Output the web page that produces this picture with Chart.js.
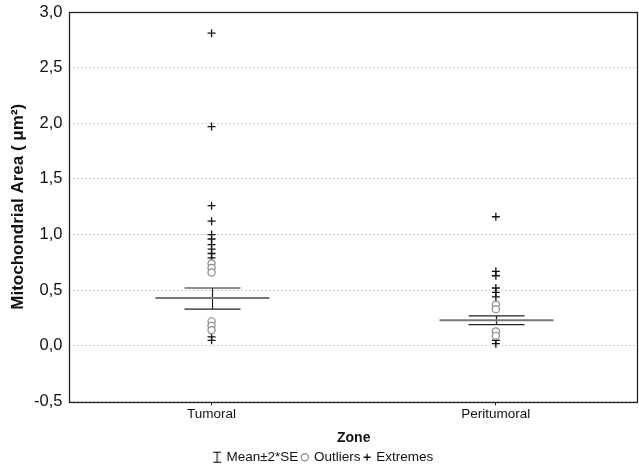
<!DOCTYPE html>
<html>
<head>
<meta charset="utf-8">
<script src="https://cdn.jsdelivr.net/npm/chart.js@4.4.1/dist/chart.umd.min.js"></script>
<style>
  html, body { margin: 0; padding: 0; background: #fff; }
  #wrap { width: 639px; height: 469px; }
</style>
</head>
<body>
<div id="wrap"><canvas id="boxChart"></canvas></div>
<script>
// categories on the x axis
const zones = ["Tumoral", "Peritumoral"];

// mean and mean±2*SE per zone
const means = [0.43, 0.23];
const lowerSE = [0.33, 0.19];
const upperSE = [0.52, 0.27];

// outliers (circles)
const tumoralOutliers = [0.74, 0.70, 0.66, 0.22, 0.18, 0.14];
const peritumoralOutliers = [0.37, 0.33, 0.13, 0.09];

// extremes (crosses)
const tumoralExtremes = [2.81, 1.97, 1.26, 1.12, 1.00, 0.96, 0.91, 0.87, 0.83, 0.79, 0.08, 0.05];
const peritumoralExtremes = [1.16, 0.67, 0.63, 0.52, 0.48, 0.44, 0.05, 0.02];

const yTicks = [-0.5, 0, 0.5, 1, 1.5, 2, 2.5, 3];

const FONT = "'Liberation Sans', Arial, sans-serif";

function toPoints(zoneIdx, values) {
    return values.map(v => ({ x: zones[zoneIdx], y: v }));
}

// little I-beam icon for the legend
function meanIcon() {
    const c = document.createElement("canvas");
    c.width = 10;
    c.height = 13;
    const g = c.getContext("2d");
    g.strokeStyle = "#000";
    g.lineWidth = 1;
    g.beginPath();
    g.moveTo(1, 1.5); g.lineTo(9, 1.5);
    g.moveTo(5, 1.5); g.lineTo(5, 11.5);
    g.moveTo(1, 11.5); g.lineTo(9, 11.5);
    g.stroke();
    return c;
}

// mean line + SE whiskers, and frame round the plot area
const meanSEPlugin = {
    id: "meanSE",
    afterDatasetsDraw(chart) {
        const ctx = chart.ctx;
        const xs = chart.scales.x;
        const ys = chart.scales.y;
        ctx.save();
        zones.forEach((z, i) => {
            const cx = Math.round(xs.getPixelForValue(i)) + 0.5;
            const yLo = ys.getPixelForValue(lowerSE[i]);
            const yHi = ys.getPixelForValue(upperSE[i]);
            const yM = ys.getPixelForValue(means[i]);
            ctx.strokeStyle = "#222";
            ctx.lineWidth = 1.2;
            ctx.beginPath();
            ctx.moveTo(cx, yLo); ctx.lineTo(cx, yHi);
            ctx.moveTo(cx - 28, yLo); ctx.lineTo(cx + 28, yLo);
            ctx.moveTo(cx - 28, yHi); ctx.lineTo(cx + 28, yHi);
            ctx.stroke();
            ctx.strokeStyle = "#777";
            ctx.lineWidth = 2;
            ctx.beginPath();
            ctx.moveTo(cx - 57, yM); ctx.lineTo(cx + 57, yM);
            ctx.stroke();
        });
        const a = chart.chartArea;
        ctx.strokeStyle = "#222";
        ctx.lineWidth = 1.3;
        ctx.strokeRect(Math.round(a.left) + 0.5, Math.round(a.top) + 0.5,
            Math.round(a.right - a.left) - 1, Math.round(a.bottom - a.top));
        ctx.restore();
    }
};

const ctx = document.getElementById("boxChart").getContext("2d");

new Chart(ctx, {
    type: "scatter",
    data: {
        datasets: [
            {
                label: "Mean±2*SE",
                data: [],
                pointStyle: meanIcon(),
            },
            {
                label: "Outliers",
                data: toPoints(0, tumoralOutliers).concat(toPoints(1, peritumoralOutliers)),
                pointStyle: "circle",
                radius: 3.6,
                borderColor: "#888",
                backgroundColor: "#fff",
                borderWidth: 1.2,
            },
            {
                label: "Extremes",
                data: toPoints(0, tumoralExtremes).concat(toPoints(1, peritumoralExtremes)),
                pointStyle: "cross",
                radius: 4,
                borderColor: "#111",
                backgroundColor: "#111",
                borderWidth: 1.3,
            },
        ],
    },
    options: {
        responsive: true,
        maintainAspectRatio: false,
        animation: false,
        layout: { autoPadding: false, padding: { top: 0, right: 1, left: 10, bottom: -5 } },
        scales: {
            x: {
                type: "category",
                labels: zones,
                offset: true,
                grid: {
                    display: true,
                    drawOnChartArea: false,
                    offset: false,
                    tickLength: 4,
                    color: "#222",
                },
                border: { display: false },
                ticks: { color: "#111", font: { family: FONT, size: 13.5 }, padding: 1 },
                title: {
                    display: true,
                    text: "Zone",
                    color: "#111",
                    font: { family: FONT, size: 14, weight: "bold" },
                    padding: { top: 6, bottom: 0 },
                },
            },
            y: {
                min: -0.5,
                max: 3,
                afterBuildTicks: (scale) => {
                    scale.ticks = yTicks.map(v => ({ value: v }));
                },
                afterFit: (scale) => {
                    scale.paddingTop = 12;
                    scale.paddingBottom = 0;
                },
                grid: {
                    color: "#cfcfcf",
                    lineWidth: 1,
                    drawTicks: false,
                },
                border: { display: false, dash: [2, 2] },
                ticks: {
                    color: "#111",
                    font: { family: FONT, size: 16.5 },
                    padding: 7,
                    callback: (v) => v.toFixed(1).replace(".", ","),
                },
                title: {
                    display: true,
                    text: "Mitochondrial Area ( μm²)",
                    color: "#111",
                    font: { family: FONT, size: 17, weight: "bold", lineHeight: 1 },
                    padding: { top: 0, bottom: 0 },
                },
            },
        },
        plugins: {
            legend: {
                position: "bottom",
                labels: {
                    usePointStyle: true,
                    boxWidth: 5,
                    boxHeight: 5,
                    padding: 4,
                    color: "#111",
                    font: { family: FONT, size: 13.5 },
                },
            },
            tooltip: { enabled: false },
        },
    },
    plugins: [meanSEPlugin],
});
</script>
</body>
</html>
